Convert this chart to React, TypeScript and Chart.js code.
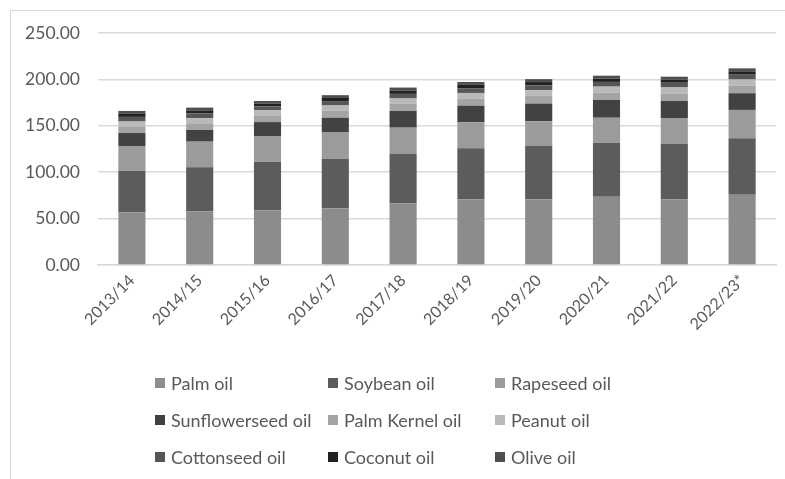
import React, { useEffect, useRef } from "react";
import { Chart, registerables } from "chart.js";

Chart.register(...registerables);

const categories = ["2013/14", "2014/15", "2015/16", "2016/17", "2017/18", "2018/19", "2019/20", "2020/21", "2021/22", "2022/23*"];

const palmOil = [56.8, 57.8, 59.1, 61.2, 66.5, 70.8, 70.8, 73.6, 70.8, 75.6];
const soybeanOil = [44.8, 47.4, 52.2, 53.0, 53.1, 54.9, 57.4, 58.2, 59.6, 61.0];
const rapeseedOil = [26.6, 27.7, 27.7, 29.1, 28.4, 28.1, 26.8, 26.9, 28.0, 30.5];
const sunflowerseedOil = [14.0, 12.6, 15.0, 15.4, 18.0, 17.9, 19.0, 19.1, 18.3, 18.0];
const palmKernelOil = [7.0, 7.2, 7.2, 7.5, 7.6, 7.7, 8.2, 8.1, 8.2, 8.3];
const peanutOil = [5.4, 5.5, 5.4, 5.7, 5.8, 6.0, 6.2, 6.3, 6.4, 6.5];
const cottonseedOil = [5.0, 5.1, 4.3, 4.7, 5.0, 5.1, 5.2, 5.1, 5.1, 5.2];
const coconutOil = [3.3, 3.3, 3.0, 3.4, 3.6, 3.6, 3.5, 3.6, 3.4, 3.6];
const oliveOil = [3.1, 3.0, 2.8, 3.0, 3.2, 3.1, 3.2, 3.1, 3.1, 3.2];

const seriesNames = ["Palm oil", "Soybean oil", "Rapeseed oil", "Sunflowerseed oil", "Palm Kernel oil", "Peanut oil", "Cottonseed oil", "Coconut oil", "Olive oil"];
const seriesValues = [palmOil, soybeanOil, rapeseedOil, sunflowerseedOil, palmKernelOil, peanutOil, cottonseedOil, coconutOil, oliveOil];
const seriesColors = ["#8c8c8c", "#5c5c5c", "#9b9b9b", "#424242", "#a4a4a4", "#b9b9b9", "#565656", "#212121", "#4f4f4f"];

const yTicks = [0, 50, 100, 150, 200, 250];

const FONT = "Lato, 'Open Sans', sans-serif";
const TEXT_COLOR = "#595959";

const legendPlugin = {
  id: "gridLegend",
  afterDraw(chart: any) {
    const ctx = chart.ctx;
    const colX = [155, 328, 495];
    const rowY = [383, 420, 457];
    ctx.save();
    ctx.font = `18px ${FONT}`;
    ctx.textBaseline = "middle";
    ctx.textAlign = "left";
    chart.data.datasets.forEach((ds: any, i: number) => {
      const x = colX[i % 3];
      const y = rowY[Math.floor(i / 3)];
      ctx.fillStyle = ds.backgroundColor;
      ctx.fillRect(x, y - 5, 10, 10);
      ctx.fillStyle = TEXT_COLOR;
      ctx.fillText(ds.label, x + 16, y + 1);
    });
    ctx.restore();
  },
};

export default function App() {
  const ref = useRef<HTMLCanvasElement | null>(null);

  useEffect(() => {
    if (!ref.current) return;
    const chart = new Chart(ref.current, {
      type: "bar",
      data: {
        labels: categories,
        datasets: seriesNames.map((name, i) => ({
          label: name,
          data: seriesValues[i],
          backgroundColor: seriesColors[i],
          borderWidth: 0,
          categoryPercentage: 1,
          barPercentage: 0.4,
        })),
      },
      options: {
        responsive: false,
        animation: false,
        layout: { padding: { top: 33, right: 9, bottom: 0, left: 0 } },
        plugins: {
          legend: { display: false },
          tooltip: { enabled: false },
        },
        scales: {
          x: {
            stacked: true,
            afterFit: (s: any) => {
              s.height = 214;
            },
            grid: { display: false, drawTicks: false },
            border: { display: true, color: "#d9d9d9", width: 1.5 },
            ticks: {
              color: TEXT_COLOR,
              font: { family: FONT, size: 16 },
              maxRotation: 45,
              minRotation: 45,
              autoSkip: false,
              padding: 6,
            },
          },
          y: {
            stacked: true,
            min: 0,
            max: 250,
            afterFit: (s: any) => {
              s.width = 98;
            },
            afterBuildTicks: (s: any) => {
              s.ticks = yTicks.map((v) => ({ value: v }));
            },
            grid: { color: "#d9d9d9", lineWidth: 1.5, drawTicks: false },
            border: { display: false },
            ticks: {
              color: TEXT_COLOR,
              font: { family: FONT, size: 17.5 },
              padding: 18,
              callback: (v: any) => Number(v).toFixed(2),
            },
          },
        },
      },
      plugins: [legendPlugin],
    });
    return () => chart.destroy();
  }, []);

  return (
    <div style={{ position: "fixed", left: 0, top: 0, width: 785, height: 479, background: "#fff", overflow: "hidden" }}>
      <div style={{ position: "absolute", left: 10, top: 10, width: 800, height: 480, borderLeft: "1px solid #d9d9d9", borderTop: "1px solid #d9d9d9" }} />
      <canvas ref={ref} width={785} height={479} style={{ position: "absolute", left: 0, top: 0 }} />
    </div>
  );
}
